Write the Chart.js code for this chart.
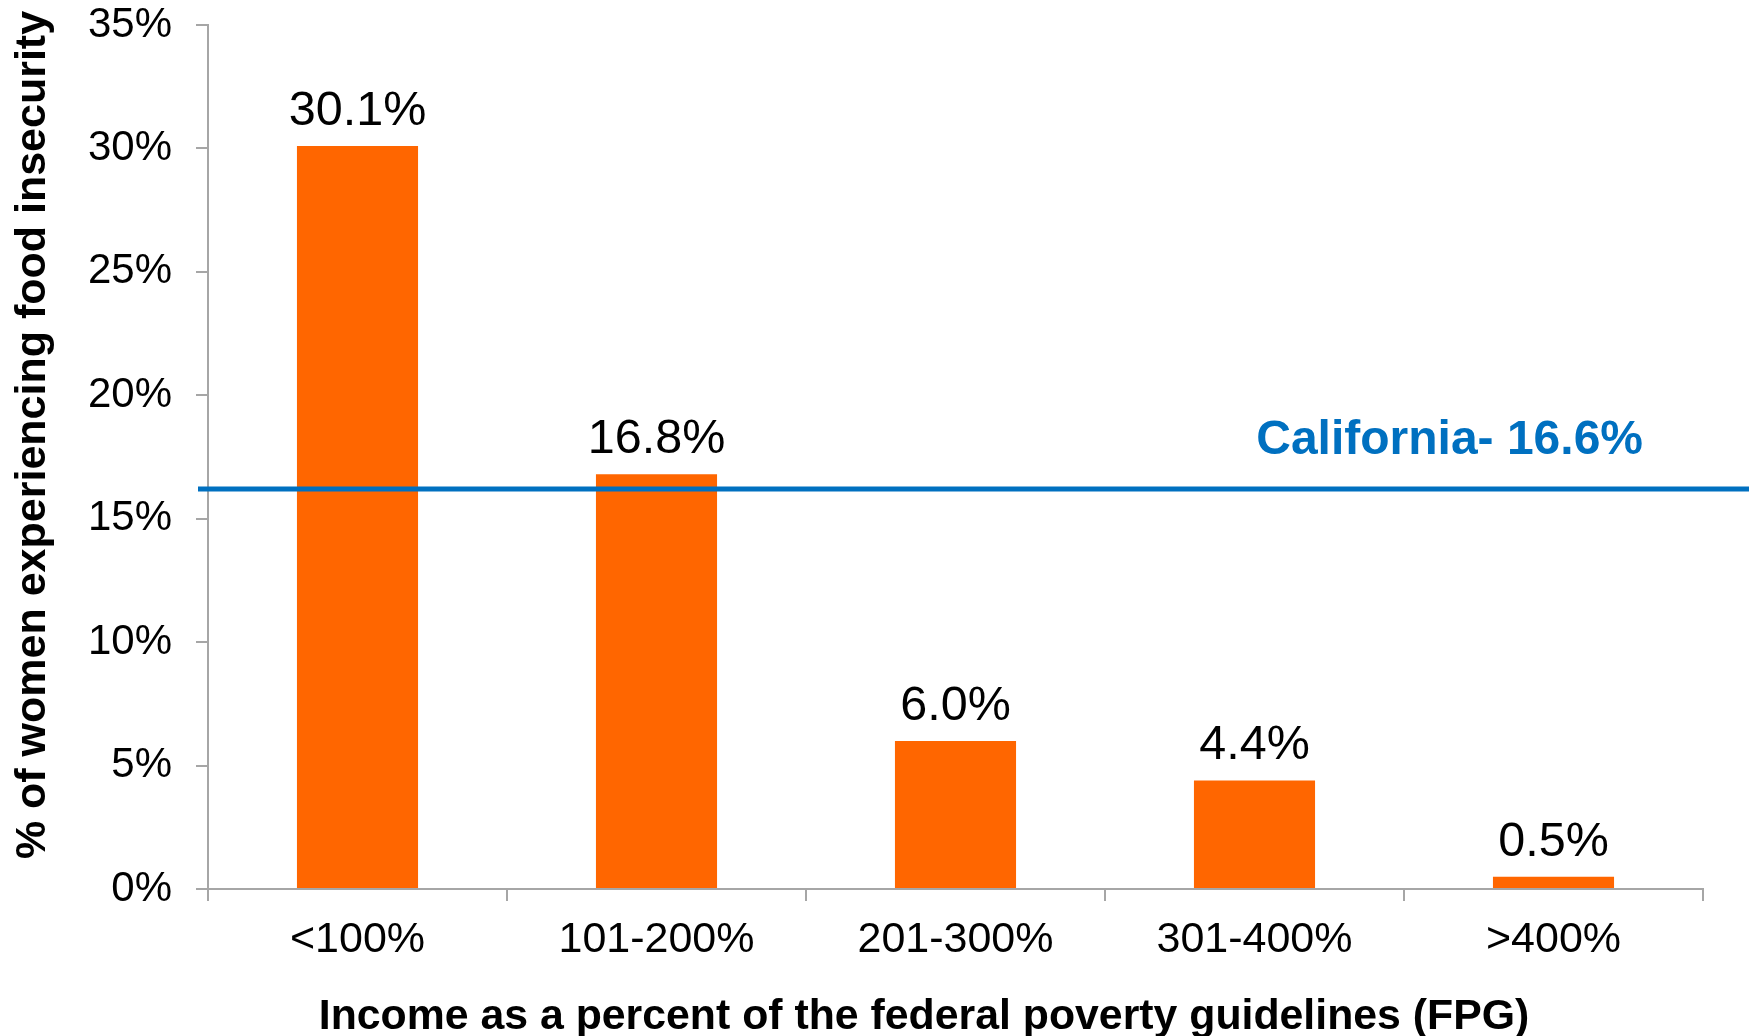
<!DOCTYPE html>
<html lang="en">
<head>
    <meta charset="UTF-8">
    <title>Food insecurity by income</title>
    <script src="https://cdn.jsdelivr.net/npm/chart.js"></script>
    <style>
        body { margin: 0; background: #fff; }
        #wrap { width: 1752px; height: 1036px; }
    </style>
</head>
<body>
    <div id="wrap">
        <canvas id="myChart"></canvas>
    </div>

    <script>
        // dados
        const categories = ['<100%', '101-200%', '201-300%', '301-400%', '>400%'];
        const values = [30.1, 16.8, 6.0, 4.4, 0.5];
        const yTicks = [0, 5, 10, 15, 20, 25, 30, 35];
        const caLineValue = 16.2;          // onde a linha azul está desenhada
        const caLabel = 'California- 16.6%';

        const fontName = '"Liberation Sans", Arial, sans-serif';
        const axisGray = '#a6a6a6';
        const orange = '#ff6600';
        const blue = '#0070c0';

        // rótulos das barras, linha da Califórnia e títulos dos eixos
        const extras = {
            id: 'extras',
            afterDatasetsDraw(chart) {
                const ctx = chart.ctx;
                const y = chart.scales.y;
                const area = chart.chartArea;

                ctx.save();
                ctx.fillStyle = '#000';
                ctx.font = '48.5px ' + fontName;
                ctx.textAlign = 'center';
                ctx.textBaseline = 'alphabetic';
                chart.getDatasetMeta(0).data.forEach((bar, i) => {
                    ctx.fillText(values[i].toFixed(1) + '%', bar.x, bar.y - 21);
                });

                const ly = y.getPixelForValue(caLineValue);
                ctx.strokeStyle = blue;
                ctx.lineWidth = 5;
                ctx.beginPath();
                ctx.moveTo(area.left - 10, ly);
                ctx.lineTo(chart.width - 3, ly);
                ctx.stroke();

                ctx.fillStyle = blue;
                ctx.font = 'bold 48px ' + fontName;
                ctx.textAlign = 'right';
                ctx.fillText(caLabel, area.right - 60, ly - 35);

                ctx.fillStyle = '#000';
                ctx.font = 'bold 42.8px ' + fontName;
                ctx.textAlign = 'center';
                ctx.fillText('Income as a percent of the federal poverty guidelines (FPG)', 924, 1029);

                ctx.translate(33, 435);
                ctx.rotate(-Math.PI / 2);
                ctx.font = 'bold 43px ' + fontName;
                ctx.textBaseline = 'middle';
                ctx.fillText('% of women experiencing food insecurity', 0, 0);
                ctx.restore();
            }
        };

        const ctx = document.getElementById('myChart').getContext('2d');
        const myChart = new Chart(ctx, {
            type: 'bar',
            data: {
                labels: categories,
                datasets: [{
                    data: values,
                    backgroundColor: orange,
                    borderWidth: 0,
                    categoryPercentage: 1,
                    barPercentage: 0.405
                }]
            },
            options: {
                responsive: true,
                maintainAspectRatio: false,
                animation: false,
                devicePixelRatio: 1,
                layout: { padding: { top: 0, right: 49, left: 0, bottom: 0 } },
                plugins: {
                    legend: { display: false },
                    tooltip: { enabled: false }
                },
                scales: {
                    x: {
                        afterFit: s => { s.height = 147; },
                        border: { color: axisGray, width: 2 },
                        grid: { drawOnChartArea: false, color: axisGray, lineWidth: 2, tickLength: 12 },
                        ticks: { color: '#000', font: { family: fontName, size: 43 }, padding: 13 }
                    },
                    y: {
                        min: 0,
                        max: 35,
                        afterFit: s => {
                            s.width = 208;
                            s.paddingTop = 25;
                            s.paddingBottom = 0;
                        },
                        afterBuildTicks: s => { s.ticks = yTicks.map(v => ({ value: v })); },
                        border: { color: axisGray, width: 2 },
                        grid: { drawOnChartArea: false, color: axisGray, lineWidth: 2, tickLength: 12 },
                        ticks: {
                            color: '#000',
                            font: { family: fontName, size: 42 },
                            padding: 24,
                            callback: v => v + '%'
                        }
                    }
                }
            },
            plugins: [extras]
        });
    </script>
</body>
</html>
